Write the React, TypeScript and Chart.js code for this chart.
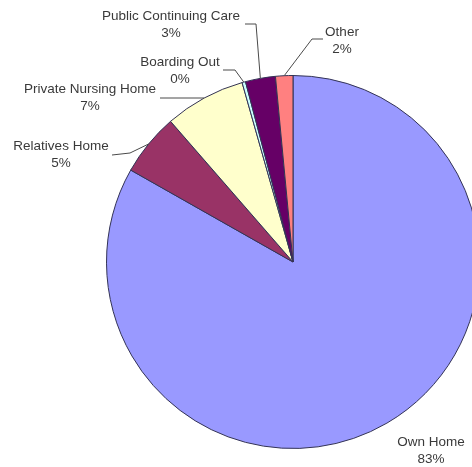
import React, { useEffect, useRef } from 'react';
import { Chart, registerables } from 'chart.js';

Chart.register(...registerables);

const categories = ['Own Home', 'Relatives Home', 'Private Nursing Home', 'Boarding Out', 'Public Continuing Care', 'Other'];
const shares = [83.2, 5.4, 7.0, 0.3, 2.6, 1.5];
const percentLabels = ['83%', '5%', '7%', '0%', '3%', '2%'];
const sliceColors = ['#9999FF', '#993366', '#FFFFCC', '#CCFFFF', '#660066', '#FF8080'];

// label placement (layout only): first-line text centre and leader waypoints from text toward the slice
const labelLayout = [
  { x: 431, y: 442, path: [] as number[][] },
  { x: 61, y: 146, path: [[112, 155], [130, 153]] },
  { x: 90, y: 89, path: [[160, 98]] },
  { x: 180, y: 62, path: [[223, 70], [235, 70]] },
  { x: 171, y: 16, path: [[245, 24], [256, 24]] },
  { x: 342, y: 32, path: [[323, 39], [312, 39]] },
];

const labelPlugin = {
  id: 'pieLabels',
  afterDraw(chart: any) {
    const ctx = chart.ctx;
    const meta = chart.getDatasetMeta(0);
    ctx.save();
    meta.data.forEach((arc: any, i: number) => {
      const p = arc.getProps(['x', 'y', 'startAngle', 'endAngle', 'outerRadius'], true);
      const mid = (p.startAngle + p.endAngle) / 2;
      const ex = p.x + Math.cos(mid) * p.outerRadius;
      const ey = p.y + Math.sin(mid) * p.outerRadius;
      const lay = labelLayout[i];
      if (lay.path.length) {
        ctx.beginPath();
        ctx.strokeStyle = '#4a4a4a';
        ctx.lineWidth = 1;
        ctx.moveTo(lay.path[0][0], lay.path[0][1]);
        for (let k = 1; k < lay.path.length; k++) ctx.lineTo(lay.path[k][0], lay.path[k][1]);
        ctx.lineTo(ex, ey);
        ctx.stroke();
      }
      ctx.fillStyle = '#3a3a3a';
      ctx.font = '13.5px "Liberation Sans", Arial, sans-serif';
      ctx.textAlign = 'center';
      ctx.textBaseline = 'middle';
      ctx.fillText(categories[i], lay.x, lay.y);
      ctx.fillText(percentLabels[i], lay.x, lay.y + 17);
    });
    ctx.restore();
  },
};

export default function App() {
  const ref = useRef<HTMLCanvasElement | null>(null);
  useEffect(() => {
    if (!ref.current) return;
    const chart = new Chart(ref.current, {
      type: 'pie',
      data: {
        labels: categories,
        datasets: [
          {
            data: shares,
            backgroundColor: sliceColors,
            borderColor: '#333355',
            borderWidth: 1,
          },
        ],
      },
      options: {
        responsive: false,
        maintainAspectRatio: false,
        animation: false,
        devicePixelRatio: 1,
        layout: { padding: { left: 106, right: 20, top: 75, bottom: 18 } },
        plugins: {
          legend: { display: false },
          tooltip: { enabled: false },
        },
      },
      plugins: [labelPlugin],
    });
    return () => chart.destroy();
  }, []);
  return (
    <div style={{ position: 'absolute', left: 0, top: 0, width: 472, height: 467, overflow: 'hidden', background: '#fff' }}>
      <canvas ref={ref} width={500} height={467} style={{ width: 500, height: 467, display: 'block' }} />
    </div>
  );
}
